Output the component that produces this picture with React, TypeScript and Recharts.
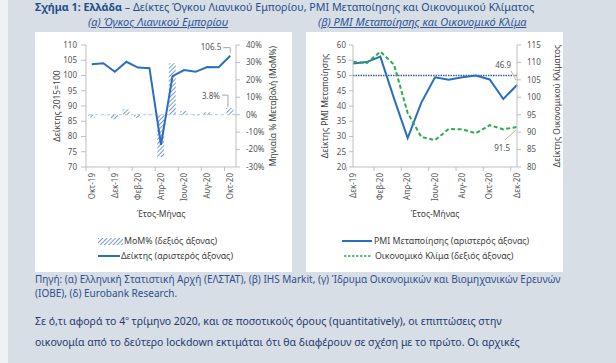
import {
  Bar,
  ComposedChart,
  LabelList,
  Line,
  LineChart,
  ReferenceLine,
  XAxis,
  YAxis,
} from "recharts";

// (α) Όγκος Λιανικού Εμπορίου
const retailMonths = ["Οκτ-19", "Νοε-19", "Δεκ-19", "Ιαν-20", "Φεβ-20", "Μαρ-20", "Απρ-20", "Μαϊ-20", "Ιουν-20", "Ιουλ-20", "Αυγ-20", "Σεπ-20", "Οκτ-20"];
const retailIndex = [103.7, 104.0, 101.2, 104.5, 102.6, 102.4, 77.3, 99.8, 101.8, 101.2, 102.8, 102.7, 106.5];
const retailMoM = [-1.5, -0.3, -2.6, 3.1, -1.8, -0.2, -24.3, 29.5, 2.1, -0.4, 1.3, -0.1, 3.8];
const retailLeftTicks = [70, 75, 80, 85, 90, 95, 100, 105, 110];
const retailRightTicks = [-30, -20, -10, 0, 10, 20, 30, 40];

// (β) PMI Μεταποίησης και Οικονομικό Κλίμα
const pmiMonths = ["Δεκ-19", "Ιαν-20", "Φεβ-20", "Μαρ-20", "Απρ-20", "Μαϊ-20", "Ιουν-20", "Ιουλ-20", "Αυγ-20", "Σεπ-20", "Οκτ-20", "Νοε-20", "Δεκ-20"];
const pmiValues = [53.9, 54.4, 56.2, 42.5, 29.5, 41.1, 49.4, 48.6, 49.4, 50.0, 48.7, 42.3, 46.9];
const climateValues = [110.2, 109.8, 113.1, 109.4, 95.5, 88.6, 87.7, 90.9, 90.8, 89.7, 92.0, 90.8, 91.5];
const pmiTicks = [20, 25, 30, 35, 40, 45, 50, 55, 60];
const climateTicks = [80, 85, 90, 95, 100, 105, 110, 115];

const FONT = "'Noto Sans', sans-serif";
const BLUE = "#2a6fbf";
const GREEN = "#2eaa4f";
const HATCH = "#4f7fc4";
const AXIS = "#bfbfbf";
const TICK = "#555";

const retailData = retailMonths.map((month, i) => ({
  month,
  index: retailIndex[i],
  mom: retailMoM[i],
}));
const pmiData = pmiMonths.map((month, i) => ({
  month,
  pmi: pmiValues[i],
  climate: climateValues[i],
}));

function MonthTick({ x, y, payload, band }: any) {
  return (
    <g transform={`translate(${x},${y})`}>
      <line x1={-band / 2} x2={-band / 2} y1={0} y2={4} stroke={AXIS} />
      <text
        transform="rotate(-90)"
        x={-6}
        dy="0.35em"
        textAnchor="end"
        fontSize={8}
        fontFamily={FONT}
        fill={TICK}
      >
        {payload.value}
      </text>
    </g>
  );
}

function IndexCallout({ x, y, index, value }: any) {
  if (index !== retailMonths.length - 1) return null;
  return (
    <g>
      <polyline points={`${x - 7},${y - 8} ${x},${y - 8} ${x},${y - 3}`} fill="none" stroke="#a6a6a6" />
      <text x={x - 9} y={y - 6} textAnchor="end" fontSize={8} fontFamily={FONT} fill={TICK}>
        {value}
      </text>
    </g>
  );
}

function MoMCallout({ x, y, width, index, value }: any) {
  if (index !== retailMonths.length - 1) return null;
  const cx = x + width / 2;
  return (
    <g>
      <polyline points={`${cx - 8},${y - 13} ${cx - 2},${y - 13} ${cx - 2},${y - 1}`} fill="none" stroke="#a6a6a6" />
      <text x={cx - 10} y={y - 9} textAnchor="end" fontSize={8} fontFamily={FONT} fill={TICK}>
        {`${value}%`}
      </text>
    </g>
  );
}

function PmiCallout({ x, y, index, value }: any) {
  if (index !== pmiMonths.length - 1) return null;
  return (
    <g>
      <line x1={x - 6} y1={y - 14} x2={x - 1} y2={y - 5} stroke="#d2b48c" />
      <text x={x - 6} y={y - 17} textAnchor="end" fontSize={8} fontFamily={FONT} fill={TICK}>
        {value}
      </text>
    </g>
  );
}

function ClimateCallout({ x, y, index, value }: any) {
  if (index !== pmiMonths.length - 1) return null;
  return (
    <g>
      <line x1={x - 12} y1={y + 13} x2={x - 1} y2={y + 3} stroke="#d2b48c" />
      <text x={x - 7} y={y + 24} textAnchor="end" fontSize={8} fontFamily={FONT} fill={TICK}>
        {value}
      </text>
    </g>
  );
}

const tickStyle = { fontSize: 8, fontFamily: FONT, fill: TICK };
const axisTitle = { fontSize: 8.5, fontFamily: FONT, fill: "#404040", textAnchor: "middle" as const };

function RetailChart() {
  return (
    <ComposedChart width={262} height={188} data={retailData} margin={{ top: 13, right: 21, left: 0, bottom: 0 }}>
      <defs>
        <pattern id="hatch" patternUnits="userSpaceOnUse" width="3" height="3" patternTransform="rotate(45)">
          <rect width="3" height="3" fill="#fff" />
          <line x1="0" y1="0" x2="0" y2="3" stroke={HATCH} strokeWidth="1.6" />
        </pattern>
      </defs>
      <XAxis
        dataKey="month"
        interval={1}
        tickLine={false}
        tickSize={0}
        tickMargin={0}
        stroke={AXIS}
        height={53}
        tick={<MonthTick band={150 / 13} />}
        label={{ value: "Έτος-Μήνας", position: "insideBottom", offset: 3, style: axisTitle }}
      />
      <YAxis
        yAxisId="left"
        domain={[70, 110]}
        ticks={retailLeftTicks}
        width={51}
        stroke={AXIS}
        tickSize={5}
        tickMargin={4}
        tick={tickStyle}
        label={{ value: "Δείκτης 2015=100", angle: -90, position: "insideLeft", offset: 22, style: axisTitle }}
      />
      <YAxis
        yAxisId="right"
        orientation="right"
        domain={[-30, 40]}
        ticks={retailRightTicks}
        tickFormatter={(v) => `${v}%`}
        width={40}
        stroke={AXIS}
        tickSize={4}
        tickMargin={6}
        tick={{ ...tickStyle, textAnchor: "start" }}
        label={{ value: "Μηνιαία % Μεταβολή (MoM%)", angle: -90, position: "insideRight", offset: 3, style: axisTitle }}
      />
      <ReferenceLine yAxisId="right" y={0} stroke="#b4c7e7" strokeDasharray="3 3" />
      <Bar yAxisId="right" dataKey="mom" fill="url(#hatch)" barSize={7} isAnimationActive={false}>
        <LabelList dataKey="mom" content={<MoMCallout />} />
      </Bar>
      <Line
        yAxisId="left"
        dataKey="index"
        stroke={BLUE}
        strokeWidth={2}
        dot={false}
        type="linear"
        isAnimationActive={false}
      >
        <LabelList dataKey="index" content={<IndexCallout />} />
      </Line>
    </ComposedChart>
  );
}

function PmiChart() {
  return (
    <LineChart width={262} height={188} data={pmiData} margin={{ top: 13, right: 5, left: 0, bottom: 0 }}>
      <XAxis
        dataKey="month"
        interval={1}
        tickLine={false}
        tickSize={0}
        tickMargin={0}
        stroke={AXIS}
        height={53}
        tick={<MonthTick band={164 / 13} />}
        label={{ value: "Έτος-Μήνας", position: "insideBottom", offset: 3, style: axisTitle }}
      />
      <YAxis
        yAxisId="left"
        domain={[20, 60]}
        ticks={pmiTicks}
        width={47}
        stroke={AXIS}
        tickSize={4}
        tickMargin={3}
        tick={tickStyle}
        label={{ value: "Δείκτης PMI Μεταποίησης", angle: -90, position: "insideLeft", offset: 19, style: axisTitle }}
      />
      <YAxis
        yAxisId="right"
        orientation="right"
        domain={[80, 115]}
        ticks={climateTicks}
        width={46}
        stroke={AXIS}
        tickSize={4}
        tickMargin={6}
        tick={{ ...tickStyle, textAnchor: "start" }}
        label={{ value: "Δείκτης Οικονομικού Κλίματος", angle: -90, position: "insideRight", offset: 6, style: axisTitle }}
      />
      <ReferenceLine yAxisId="left" y={50} stroke="#3b5a9a" strokeWidth={1.6} strokeDasharray="1.5 1" />
      <Line
        yAxisId="left"
        dataKey="pmi"
        stroke={BLUE}
        strokeWidth={2}
        dot={false}
        type="linear"
        isAnimationActive={false}
      >
        <LabelList dataKey="pmi" content={<PmiCallout />} />
      </Line>
      <Line
        yAxisId="right"
        dataKey="climate"
        stroke={GREEN}
        strokeWidth={2}
        strokeDasharray="4 2.5"
        dot={false}
        type="linear"
        isAnimationActive={false}
      >
        <LabelList dataKey="climate" content={<ClimateCallout />} />
      </Line>
    </LineChart>
  );
}

const abs = (left: number, top: number, extra: React.CSSProperties = {}): React.CSSProperties => ({
  position: "absolute",
  left,
  top,
  whiteSpace: "nowrap",
  lineHeight: 1,
  ...extra,
});

const legendText: React.CSSProperties = { fontSize: 8.8, color: "#404040", fontFamily: FONT };
const subtitle: React.CSSProperties = { fontSize: 11, color: "#2f5597", fontStyle: "italic", textDecoration: "underline" };

export default function App() {
  return (
    <div
      style={{
        position: "absolute",
        left: 0,
        top: 0,
        width: 616,
        height: 363,
        overflow: "hidden",
        background: "#d7dee6",
        fontFamily: FONT,
      }}
    >
      <div style={abs(0, 0, { width: 8, height: 363, background: "#eef2f7" })} />

      <div style={abs(35, 2, { fontSize: 10.7, color: "#1f4e8c" })}>
        <b>Σχήμα 1: Ελλάδα</b> – Δείκτες Όγκου Λιανικού Εμπορίου, PMI Μεταποίησης και Οικονομικού Κλίματος
      </div>
      <div style={abs(88, 16, subtitle)}>(α) Όγκος Λιανικού Εμπορίου</div>
      <div style={abs(318, 16, subtitle)}>(β) PMI Μεταποίησης και Οικονομικό Κλίμα</div>

      <div style={abs(35, 32, { width: 257, height: 240, background: "#fff" })} />
      <div style={abs(306, 32, { width: 257, height: 240, background: "#fff" })} />

      <div style={abs(35, 32)}>
        <RetailChart />
      </div>
      <div style={abs(306, 32)}>
        <PmiChart />
      </div>

      {/* legend (α) */}
      <svg style={abs(98, 238)} width={25} height={7}>
        <rect width={25} height={7} fill="url(#hatch)" />
      </svg>
      <div style={abs(124, 237, legendText)}>MoM% (δεξιός άξονας)</div>
      <svg style={abs(98, 253)} width={22} height={6}>
        <line x1={0} x2={22} y1={3} y2={3} stroke={BLUE} strokeWidth={2} />
      </svg>
      <div style={abs(121, 252, legendText)}>Δείκτης (αριστερός άξονας)</div>

      {/* legend (β) */}
      <svg style={abs(342, 238)} width={30} height={6}>
        <line x1={0} x2={30} y1={3} y2={3} stroke={BLUE} strokeWidth={2} />
      </svg>
      <div style={abs(374, 237, legendText)}>PMI Μεταποίησης (αριστερός άξονας)</div>
      <svg style={abs(344, 253)} width={28} height={6}>
        <line x1={0} x2={28} y1={3} y2={3} stroke={GREEN} strokeWidth={1.5} strokeDasharray="2.5 1.5" />
      </svg>
      <div style={abs(375, 252, legendText)}>Οικονομικό Κλίμα (δεξιός άξονας)</div>

      <div style={abs(35, 274, { fontSize: 10, color: "#2f4f8f" })}>
        Πηγή: (α) Ελληνική Στατιστική Αρχή (ΕΛΣΤΑΤ), (β) IHS Markit, (γ) Ίδρυμα Οικονομικών και Βιομηχανικών Ερευνών
      </div>
      <div style={abs(35, 288, { fontSize: 10, color: "#2f4f8f" })}>(ΙΟΒΕ), (δ) Eurobank Research.</div>

      <div style={abs(35, 315, { fontSize: 10.5, color: "#1f3a70" })}>
        Σε ό,τι αφορά το 4<sup style={{ fontSize: 6 }}>ο</sup> τρίμηνο 2020, και σε ποσοτικούς όρους (quantitatively), οι επιπτώσεις στην
      </div>
      <div style={abs(35, 337, { fontSize: 10.5, color: "#1f3a70" })}>
        οικονομία από το δεύτερο lockdown εκτιμάται ότι θα διαφέρουν σε σχέση με το πρώτο. Οι αρχικές
      </div>
    </div>
  );
}
